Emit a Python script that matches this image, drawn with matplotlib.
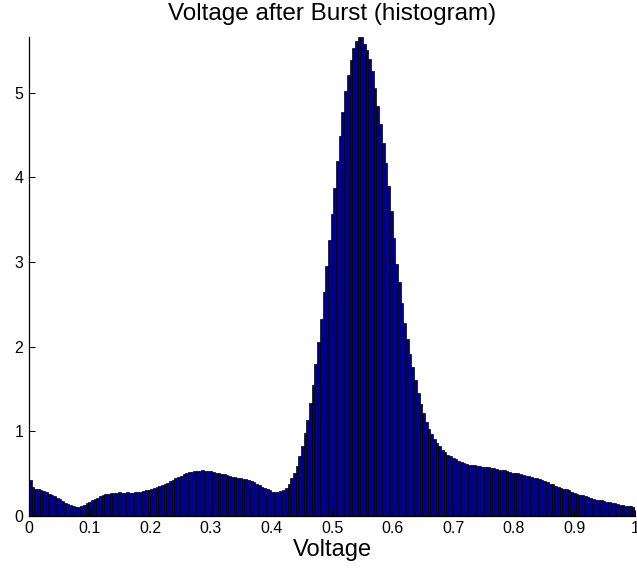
import numpy as np
import matplotlib
matplotlib.use("Agg")
import matplotlib.pyplot as plt

plt.rcParams['font.family'] = ['Liberation Sans', 'DejaVu Sans']

# normalised histogram of the voltage after the burst, 225 bins over [0, 1]
counts = [
    0.42, 0.34, 0.32, 0.31, 0.30, 0.29, 0.275, 0.26, 0.25, 0.235,
    0.215, 0.195, 0.175, 0.155, 0.14, 0.122, 0.11, 0.105, 0.105, 0.115,
    0.13, 0.15, 0.165, 0.18, 0.20, 0.215, 0.23, 0.245, 0.255, 0.26,
    0.265, 0.27, 0.27, 0.275, 0.27, 0.27, 0.275, 0.27, 0.27, 0.275,
    0.28, 0.285, 0.29, 0.30, 0.305, 0.315, 0.325, 0.335, 0.35, 0.36,
    0.375, 0.39, 0.41, 0.425, 0.445, 0.46, 0.475, 0.49, 0.505, 0.515,
    0.52, 0.525, 0.53, 0.53, 0.535, 0.53, 0.53, 0.525, 0.52, 0.51,
    0.505, 0.495, 0.49, 0.48, 0.47, 0.46, 0.455, 0.445, 0.44, 0.435,
    0.43, 0.42, 0.41, 0.395, 0.375, 0.36, 0.345, 0.33, 0.315, 0.30,
    0.285, 0.275, 0.28, 0.29, 0.305, 0.33, 0.38, 0.44, 0.51, 0.59,
    0.70, 0.82, 0.98, 1.13, 1.33, 1.55, 1.79, 2.05, 2.33, 2.64,
    2.95, 3.26, 3.57, 3.88, 4.19, 4.49, 4.77, 5.02, 5.21, 5.39,
    5.53, 5.61, 5.655, 5.66, 5.58, 5.51, 5.40, 5.26, 5.06, 4.84,
    4.63, 4.41, 4.17, 3.90, 3.60, 3.28, 2.98, 2.76, 2.51, 2.28,
    2.09, 1.91, 1.76, 1.60, 1.45, 1.32, 1.21, 1.11, 1.03, 0.97,
    0.91, 0.86, 0.82, 0.78, 0.75, 0.72, 0.70, 0.68, 0.665, 0.65,
    0.635, 0.625, 0.61, 0.605, 0.60, 0.595, 0.59, 0.585, 0.58, 0.575,
    0.57, 0.565, 0.56, 0.55, 0.545, 0.54, 0.535, 0.53, 0.52, 0.51,
    0.505, 0.50, 0.49, 0.48, 0.47, 0.465, 0.455, 0.45, 0.44, 0.43,
    0.42, 0.41, 0.395, 0.38, 0.37, 0.355, 0.345, 0.33, 0.32, 0.31,
    0.30, 0.285, 0.27, 0.26, 0.25, 0.24, 0.23, 0.22, 0.21, 0.20,
    0.19, 0.185, 0.18, 0.17, 0.165, 0.16, 0.15, 0.145, 0.14, 0.13,
    0.125, 0.12, 0.115, 0.11, 0.10,
]
xticks = [0, 0.1, 0.2, 0.3, 0.4, 0.5, 0.6, 0.7, 0.8, 0.9, 1]
xticklabels = ['0', '0.1', '0.2', '0.3', '0.4', '0.5', '0.6', '0.7', '0.8', '0.9', '1']
yticks = [0, 1, 2, 3, 4, 5]

nbins = len(counts)
edges = np.linspace(0, 1, nbins + 1)

fig = plt.figure(figsize=(6.37, 5.70), dpi=100)
ax = fig.add_axes([29 / 637, 54.3 / 570, 606 / 637, 478.7 / 570])

ax.bar(edges[:-1], counts, width=1.0 / nbins, align='edge',
       color=(0, 0, 0.5625), edgecolor='black', linewidth=0.5)

ax.set_xlim(0, 1)
ax.set_ylim(0, max(counts))
ax.set_xticks(xticks)
ax.set_xticklabels(xticklabels)
ax.set_yticks(yticks)
ax.tick_params(direction='in', length=4, width=0.75, labelsize=11.5, pad=4)
ax.tick_params(top=False, right=False)
for side in ('top', 'right'):
    ax.spines[side].set_visible(False)
for side in ('left', 'bottom'):
    ax.spines[side].set_linewidth(0.9)

ax.set_title('Voltage after Burst (histogram)', fontsize=17.5, pad=12)
ax.set_xlabel('Voltage', fontsize=17, labelpad=2)

fig.savefig('out.png', dpi=100)
